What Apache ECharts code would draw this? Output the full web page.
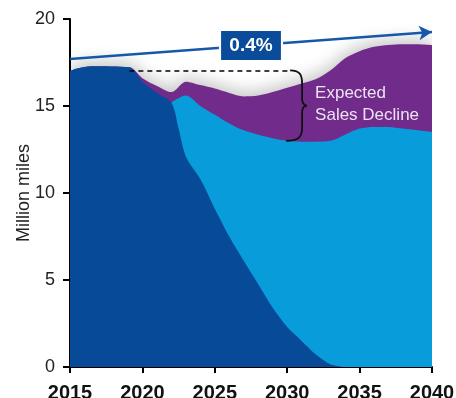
<!DOCTYPE html>
<html>
<head>
<meta charset="utf-8">
<script src="https://cdn.jsdelivr.net/npm/echarts@6/dist/echarts.min.js"></script>
<style>
  html, body { margin: 0; padding: 0; background: #fff; overflow: hidden; }
  #chart { width: 456px; height: 398px; }
</style>
</head>
<body>
<div id="chart"></div>
<script>
// Vehicle miles by segment (million miles); each list is the top edge of its band.
const navyYears   = [2015, 2015.5, 2016.5, 2019.1, 2020, 2021, 2022, 2022.5, 2023, 2024, 2025, 2026, 2027, 2028, 2029, 2030, 2031, 2032, 2033, 2034];
const navyTop     = [17.0, 17.15, 17.28, 17.22, 16.4, 15.75, 15.2, 13.7, 12.1, 10.8, 9.1, 7.5, 6.1, 4.75, 3.4, 2.3, 1.5, 0.7, 0.15, 0];

const cyanYears   = [2022, 2023, 2024, 2025, 2026, 2027, 2028, 2029, 2030, 2031, 2032, 2033, 2034, 2035, 2036, 2037, 2038, 2039, 2040];
const cyanTop     = [15.2, 15.6, 15.0, 14.5, 14.0, 13.6, 13.35, 13.15, 13.0, 12.95, 12.95, 13.0, 13.35, 13.7, 13.8, 13.8, 13.7, 13.6, 13.5];

const purpleYears = [2015, 2015.5, 2016.5, 2019.1, 2020, 2021, 2022, 2023, 2024, 2025, 2026, 2027, 2028, 2029, 2030, 2031, 2032, 2033, 2034, 2035, 2036, 2037, 2038, 2039, 2040];
const purpleTop   = [17.0, 17.15, 17.28, 17.22, 16.6, 16.15, 15.8, 16.4, 16.2, 16.0, 15.75, 15.55, 15.6, 15.8, 16.05, 16.3, 16.55, 17.05, 17.75, 18.15, 18.4, 18.5, 18.55, 18.55, 18.5];

// Long-run growth trend
const trendStart = [2015, 17.7];
const trendEnd   = [2040, 19.25];
const trendLabel = '0.4%';

// Expected decline bracket: year, level before decline, level after decline
const declineYear = 2030.2;
const declineFrom = 17.05;
const declineTo   = 13.0;
const declineStartYear = 2019.1;
const declineText = 'Expected\nSales Decline';

const xTicks = { min: 2015, max: 2040, step: 5 };
const yTicks = { min: 0, max: 20, step: 5 };

const NAVY = '#074a98';
const CYAN = '#089cdb';
const PURPLE = '#712b8b';
const FONT = '"Liberation Sans", Arial, sans-serif';

const pairs = (xs, ys) => xs.map((x, i) => [x, ys[i]]);

const chart = echarts.init(document.getElementById('chart'), null, { renderer: 'canvas' });

chart.setOption({
  animation: false,
  backgroundColor: '#fff',
  grid: { left: 70, right: 24, top: 19, bottom: 31, containLabel: false, outerBoundsMode: 'none' },
  xAxis: {
    type: 'value',
    min: xTicks.min, max: xTicks.max, interval: xTicks.step,
    axisLine: { show: true, onZero: false, lineStyle: { color: '#000', width: 2 } },
    axisTick: { show: true, length: 6, lineStyle: { color: '#000', width: 2 } },
    axisLabel: { color: '#111', fontFamily: FONT, fontSize: 20, fontWeight: 'bold', margin: 16,
                 formatter: v => String(v) },
    splitLine: { show: false }
  },
  yAxis: {
    type: 'value',
    min: yTicks.min, max: yTicks.max, interval: yTicks.step,
    name: 'Million miles', nameLocation: 'middle', nameGap: 37, nameRotate: 90,
    nameMoveOverlap: false,
    nameTextStyle: { color: '#222', fontFamily: FONT, fontSize: 18 },
    axisLine: { show: true, lineStyle: { color: '#000', width: 2 } },
    axisTick: { show: true, length: 7, lineStyle: { color: '#000', width: 2 } },
    axisLabel: { color: '#222', fontFamily: FONT, fontSize: 18, margin: 15 },
    splitLine: { show: false }
  },
  series: [
    {
      name: 'total', type: 'line', smooth: 0.3, symbol: 'none', z: 2,
      data: pairs(purpleYears, purpleTop),
      lineStyle: { width: 0 },
      areaStyle: { color: PURPLE, opacity: 1, origin: 'start',
                   shadowBlur: 16, shadowColor: 'rgba(0,0,0,0.22)', shadowOffsetY: -5 }
    },
    {
      name: 'cyan', type: 'line', smooth: 0.3, symbol: 'none', z: 3,
      data: pairs(cyanYears, cyanTop),
      lineStyle: { width: 0 },
      areaStyle: { color: CYAN, opacity: 1, origin: 'start' }
    },
    {
      name: 'navy', type: 'line', smooth: 0.3, symbol: 'none', z: 4,
      data: pairs(navyYears, navyTop),
      lineStyle: { width: 0 },
      areaStyle: { color: NAVY, opacity: 1, origin: 'start' }
    },
    {
      name: 'trend', type: 'line', data: [], z: 6,
      markLine: {
        silent: true, animation: false,
        symbol: ['none', 'arrow'], symbolSize: [11, 13],
        lineStyle: { color: '#1658a8', width: 2.5, type: 'solid' },
        label: { show: false },
        data: [[{ coord: trendStart }, { coord: trendEnd }]]
      },
      markPoint: {
        silent: true, animation: false,
        data: [{
          coord: [(trendStart[0] + trendEnd[0]) / 2, (trendStart[1] + trendEnd[1]) / 2],
          symbol: 'rect', symbolSize: [62, 30],
          itemStyle: { color: '#0b4c9a', borderColor: '#fff', borderWidth: 1.5 },
          label: { show: true, formatter: trendLabel, color: '#fff', fontFamily: FONT,
                   fontSize: 19, fontWeight: 'bold' }
        }]
      }
    },
    {
      name: 'decline', type: 'line', data: [], z: 6,
      markLine: {
        silent: true, animation: false, symbol: ['none', 'none'],
        lineStyle: { color: '#000', width: 1.5, type: [5, 4] },
        label: { show: false },
        data: [[{ coord: [declineStartYear, declineFrom] }, { coord: [declineYear, declineFrom] }]]
      }
    },
    {
      name: 'bracket', type: 'custom', z: 7, silent: true,
      data: [[declineYear, declineFrom, declineTo]],
      renderItem: function (params, api) {
        const top = api.coord([api.value(0), api.value(1)]);
        const bot = api.coord([api.value(0), api.value(2)]);
        const x0 = top[0], x1 = x0 + 12, tip = x1 + 5;
        const t = top[1], b = bot[1], m = (t + b) / 2;
        const d = [
          'M', x0, t,
          'C', x0 + 9, t, x1, t + 4, x1, t + 13,
          'L', x1, m - 7,
          'C', x1, m - 2, x1 + 2, m, tip, m,
          'C', x1 + 2, m, x1, m + 2, x1, m + 7,
          'L', x1, b - 13,
          'C', x1, b - 4, x0 + 9, b, x0 - 4, b
        ].join(' ');
        return {
          type: 'group',
          children: [
            { type: 'path', shape: { pathData: d },
              style: { fill: null, stroke: '#111', lineWidth: 1.8 } },
            { type: 'text',
              style: { text: declineText, x: tip + 8, y: t + 12, fill: '#ece3f2',
                       font: '17px ' + FONT, lineHeight: 22, verticalAlign: 'top', align: 'left' } }
          ]
        };
      }
    }
  ]
});
</script>
</body>
</html>
